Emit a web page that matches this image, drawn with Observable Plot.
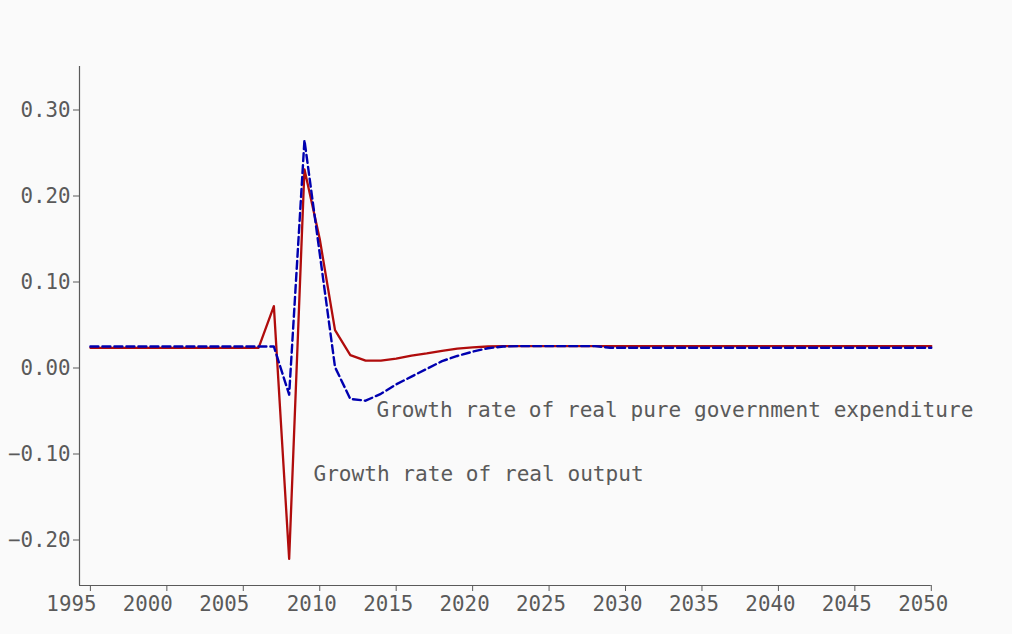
<!DOCTYPE html>
<html>
<head>
<meta charset="utf-8">
<script src="https://cdn.jsdelivr.net/npm/d3@7"></script>
<script src="https://cdn.jsdelivr.net/npm/@observablehq/plot@0.6"></script>
<style>
  html, body { margin: 0; padding: 0; background: #fafafa; }
  #chart { width: 1012px; height: 634px; }
</style>
</head>
<body>
<div id="chart"></div>
<script>
const years = [1995,1996,1997,1998,1999,2000,2001,2002,2003,2004,2005,2006,2007,2008,2009,2010,
  2011,2012,2013,2014,2015,2016,2017,2018,2019,2020,2021,2022,2023,2024,2025,2026,2027,2028,2029,2030,
  2031,2032,2033,2034,2035,2036,2037,2038,2039,2040,2041,2042,2043,2044,2045,2046,2047,2048,2049,2050];

const outputGrowth = [0.0235,0.0235,0.0235,0.0235,0.0235,0.0235,0.0235,0.0235,0.0235,0.0235,0.0235,0.0235,
  0.072,-0.222,0.231,0.150,0.044,0.015,0.0085,0.0085,0.011,0.0145,0.017,0.020,0.0225,0.024,0.025,0.0255,
  0.0255,0.0255,0.0255,0.0255,0.0255,0.0255,0.0255,0.0255,0.0255,0.0255,0.0255,0.0255,0.0255,0.0255,
  0.0255,0.0255,0.0255,0.0255,0.0255,0.0255,0.0255,0.0255,0.0255,0.0255,0.0255,0.0255,0.0255,0.0255];

const govGrowth = [0.025,0.025,0.025,0.025,0.025,0.025,0.025,0.025,0.025,0.025,0.025,0.025,
  0.025,-0.031,0.265,0.133,0.001,-0.036,-0.038,-0.030,-0.019,-0.010,-0.001,0.008,0.014,0.019,0.023,0.025,
  0.0255,0.0255,0.0255,0.0255,0.0255,0.0255,0.0235,0.0235,0.0235,0.0235,0.0235,0.0235,0.0235,0.0235,
  0.0235,0.0235,0.0235,0.0235,0.0235,0.0235,0.0235,0.0235,0.0235,0.0235,0.0235,0.0235,0.0235,0.0235];

const xTicks = [1995,2000,2005,2010,2015,2020,2025,2030,2035,2040,2045,2050];
const xTicksEarly = [1995,2000,2005];
const xTicksLate = [2010,2015,2020,2025,2030,2035,2040,2045,2050];
const yTicks = [-0.20,-0.10,0.00,0.10,0.20,0.30];

const labelText = ["Growth rate of real pure government expenditure", "Growth rate of real output"];
const labelYear = [2013.71, 2009.59];
const labelValue = [-0.0487, -0.124];

const outputData = years.map((y, i) => ({year: y, value: outputGrowth[i]}));
const govData = years.map((y, i) => ({year: y, value: govGrowth[i]}));
const labels = labelText.map((t, i) => ({text: t, year: labelYear[i], value: labelValue[i]}));

const fmt = d => (d < 0 ? "\u2212" : "") + Math.abs(d).toFixed(2);
const ink = "#5a5a5a";

const plot = Plot.plot({
  width: 1012,
  height: 634,
  marginLeft: 79,
  marginRight: 81.2,
  marginTop: 66,
  marginBottom: 49,
  style: {
    background: "#fafafa",
    fontFamily: "'DejaVu Sans Mono', monospace",
    fontSize: "20.8px",
    color: ink
  },
  x: {type: "linear", domain: [1994.287, 2050], label: null},
  y: {type: "linear", domain: [-0.2529, 0.3506], label: null},
  marks: [
    Plot.axisY(yTicks, {tickFormat: fmt, tickSize: 6, tickPadding: 3, label: null, fontSize: 20.8}),
    Plot.axisX(xTicks, {tickFormat: () => "", tickSize: 6, label: null}),
    Plot.axisX(xTicksEarly, {tickFormat: d => String(d), tickSize: 0, tickPadding: 11, label: null, dx: -19, fontSize: 20.8}),
    Plot.axisX(xTicksLate, {tickFormat: d => String(d), tickSize: 0, tickPadding: 11, label: null, dx: -8, fontSize: 20.8}),
    Plot.ruleX([1994.287], {stroke: ink, strokeWidth: 1.2}),
    Plot.ruleY([-0.2529], {stroke: ink, strokeWidth: 1.2}),
    Plot.line(outputData, {x: "year", y: "value", stroke: "#b00c0c", strokeWidth: 2.3}),
    Plot.line(govData, {x: "year", y: "value", stroke: "#0000b0", strokeWidth: 2.4, strokeDasharray: "8,4"}),
    Plot.text(labels, {x: "year", y: "value", text: "text", textAnchor: "start", fill: ink, fontSize: 21.1})
  ]
});
document.getElementById("chart").appendChild(plot);
</script>
</body>
</html>
